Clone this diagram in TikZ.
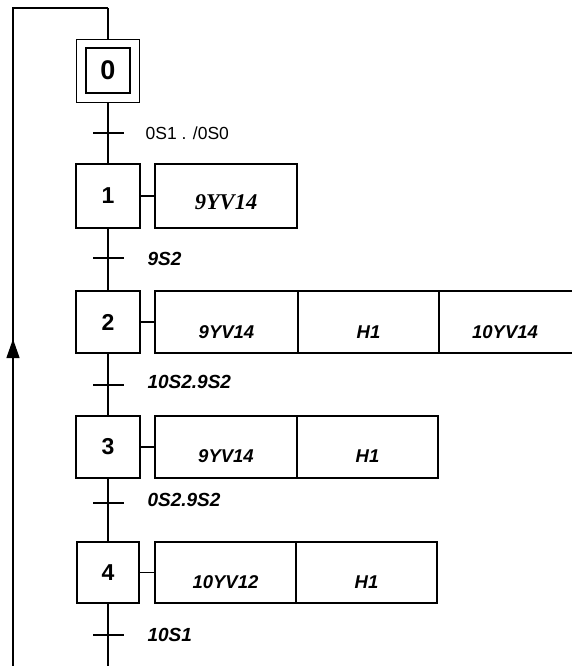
\documentclass[tikz,border=0pt]{standalone}
\usepackage{fontspec}
\setmainfont{Liberation Sans}
\newfontfamily\timesf{Liberation Serif}
\usetikzlibrary{arrows.meta}
\begin{document}
\begin{tikzpicture}[x=1pt,y=-1pt,line width=1.2pt,
  stepbox/.style={draw,minimum width=64pt,minimum height=63pt,inner sep=0pt,
    font=\fontsize{23}{23}\selectfont\bfseries},
  actbox/.style={draw,inner sep=0pt,minimum height=63pt},
  acttext/.style={anchor=base,inner sep=0pt,font=\fontsize{18.5}{18.5}\selectfont\bfseries\itshape},
  trlabel/.style={anchor=west,inner sep=0pt,font=\fontsize{19}{19}\selectfont\bfseries\itshape},
  ticklen/.style={line width=1.2pt}]
\useasboundingbox (0,0) rectangle (572,666);
\clip (0,0) rectangle (572,666);

% step 0 (initial)
\node[draw,minimum width=63pt,minimum height=63pt,inner sep=0pt] (s0) at (108,71) {};
\node[draw,minimum width=44pt,minimum height=45pt,inner sep=0pt,
  font=\fontsize{27}{27}\selectfont\bfseries] (s0in) at (108,70.5) {0};

% steps
\node[stepbox,minimum height=64pt] (s1) at (108,196) {1};
\node[stepbox,minimum height=62pt] (s2) at (108,322) {2};
\node[stepbox,minimum height=62pt] (s3) at (108,447) {3};
\node[stepbox,minimum width=62pt,minimum height=61pt] (s4) at (108,572.5) {4};

% actions
\node[actbox,minimum width=142pt,minimum height=64pt] (a1) at (226,196) {};
\node[anchor=base,inner sep=0pt,font=\timesf\fontsize{22.5}{22.5}\selectfont\bfseries\itshape] (a1t) at (226,209) {9YV14};

\node[actbox,minimum width=143pt,minimum height=62pt] (a2a) at (226.5,322) {};
\node[actbox,minimum width=141pt,minimum height=62pt] (a2b) at (368.5,322) {};
\node[actbox,minimum width=141pt,minimum height=62pt] (a2c) at (509.5,322) {};
\node[acttext] (a2at) at (226.5,338) {9YV14};
\node[acttext] (a2bt) at (368.5,338) {H1};
\node[acttext] (a2ct) at (505,338) {10YV14};

\node[actbox,minimum width=142pt,minimum height=62pt] (a3a) at (226,447) {};
\node[actbox,minimum width=141pt,minimum height=62pt] (a3b) at (367.5,447) {};
\node[acttext] (a3at) at (226,462.5) {9YV14};
\node[acttext] (a3bt) at (367.5,462.5) {H1};

\node[actbox,minimum width=141pt,minimum height=61pt] (a4a) at (225.5,572.5) {};
\node[actbox,minimum width=141pt,minimum height=61pt] (a4b) at (366.5,572.5) {};
\node[acttext] (a4at) at (225.5,588) {10YV12};
\node[acttext] (a4bt) at (366.5,588) {H1};

% step-action links
\draw (s1.east) -- (a1.west);
\draw (s2.east) -- (a2a.west);
\draw (s3.east) -- (a3a.west);
\draw (s4.east) -- (a4a.west);

% vertical links
\coordinate (top) at (108,8);
\coordinate (ltop) at (13,8);
\coordinate (lbot) at (13,666);
\coordinate (bot) at (108,666);
\draw (top) -- (s0.north);
\draw (s0.south) -- (s1.north);
\draw (s1.south) -- (s2.north);
\draw (s2.south) -- (s3.north);
\draw (s3.south) -- (s4.north);
\draw (s4.south) -- (bot);

% return loop
\draw (lbot) -- (ltop) -- (top);
\coordinate (arrbase) at (13,380);
\coordinate (arrtip) at (13,339);
\draw[-{Triangle[length=19pt,width=13pt]}] (arrbase) -- (arrtip);

% transitions
\coordinate (tr0) at (108,133);
\coordinate (tr1) at (108,258);
\coordinate (tr2) at (108,385);
\coordinate (tr3) at (108,503);
\coordinate (tr4) at (108,635);
\foreach \t in {tr0,tr1,tr2,tr3,tr4}{
  \draw[ticklen] (\t) ++(-15,0) -- ++(31,0);
}
\node[anchor=west,inner sep=0pt,font=\fontsize{17.5}{17.5}\selectfont] (l0) at (145,133) {0S1 . /0S0};
\node[trlabel] (l1) at (147,259) {9S2};
\node[trlabel] (l2) at (147,382) {10S2.9S2};
\node[trlabel] (l3) at (147,500) {0S2.9S2};
\node[trlabel] (l4) at (147,635) {10S1};
\end{tikzpicture}
\end{document}
